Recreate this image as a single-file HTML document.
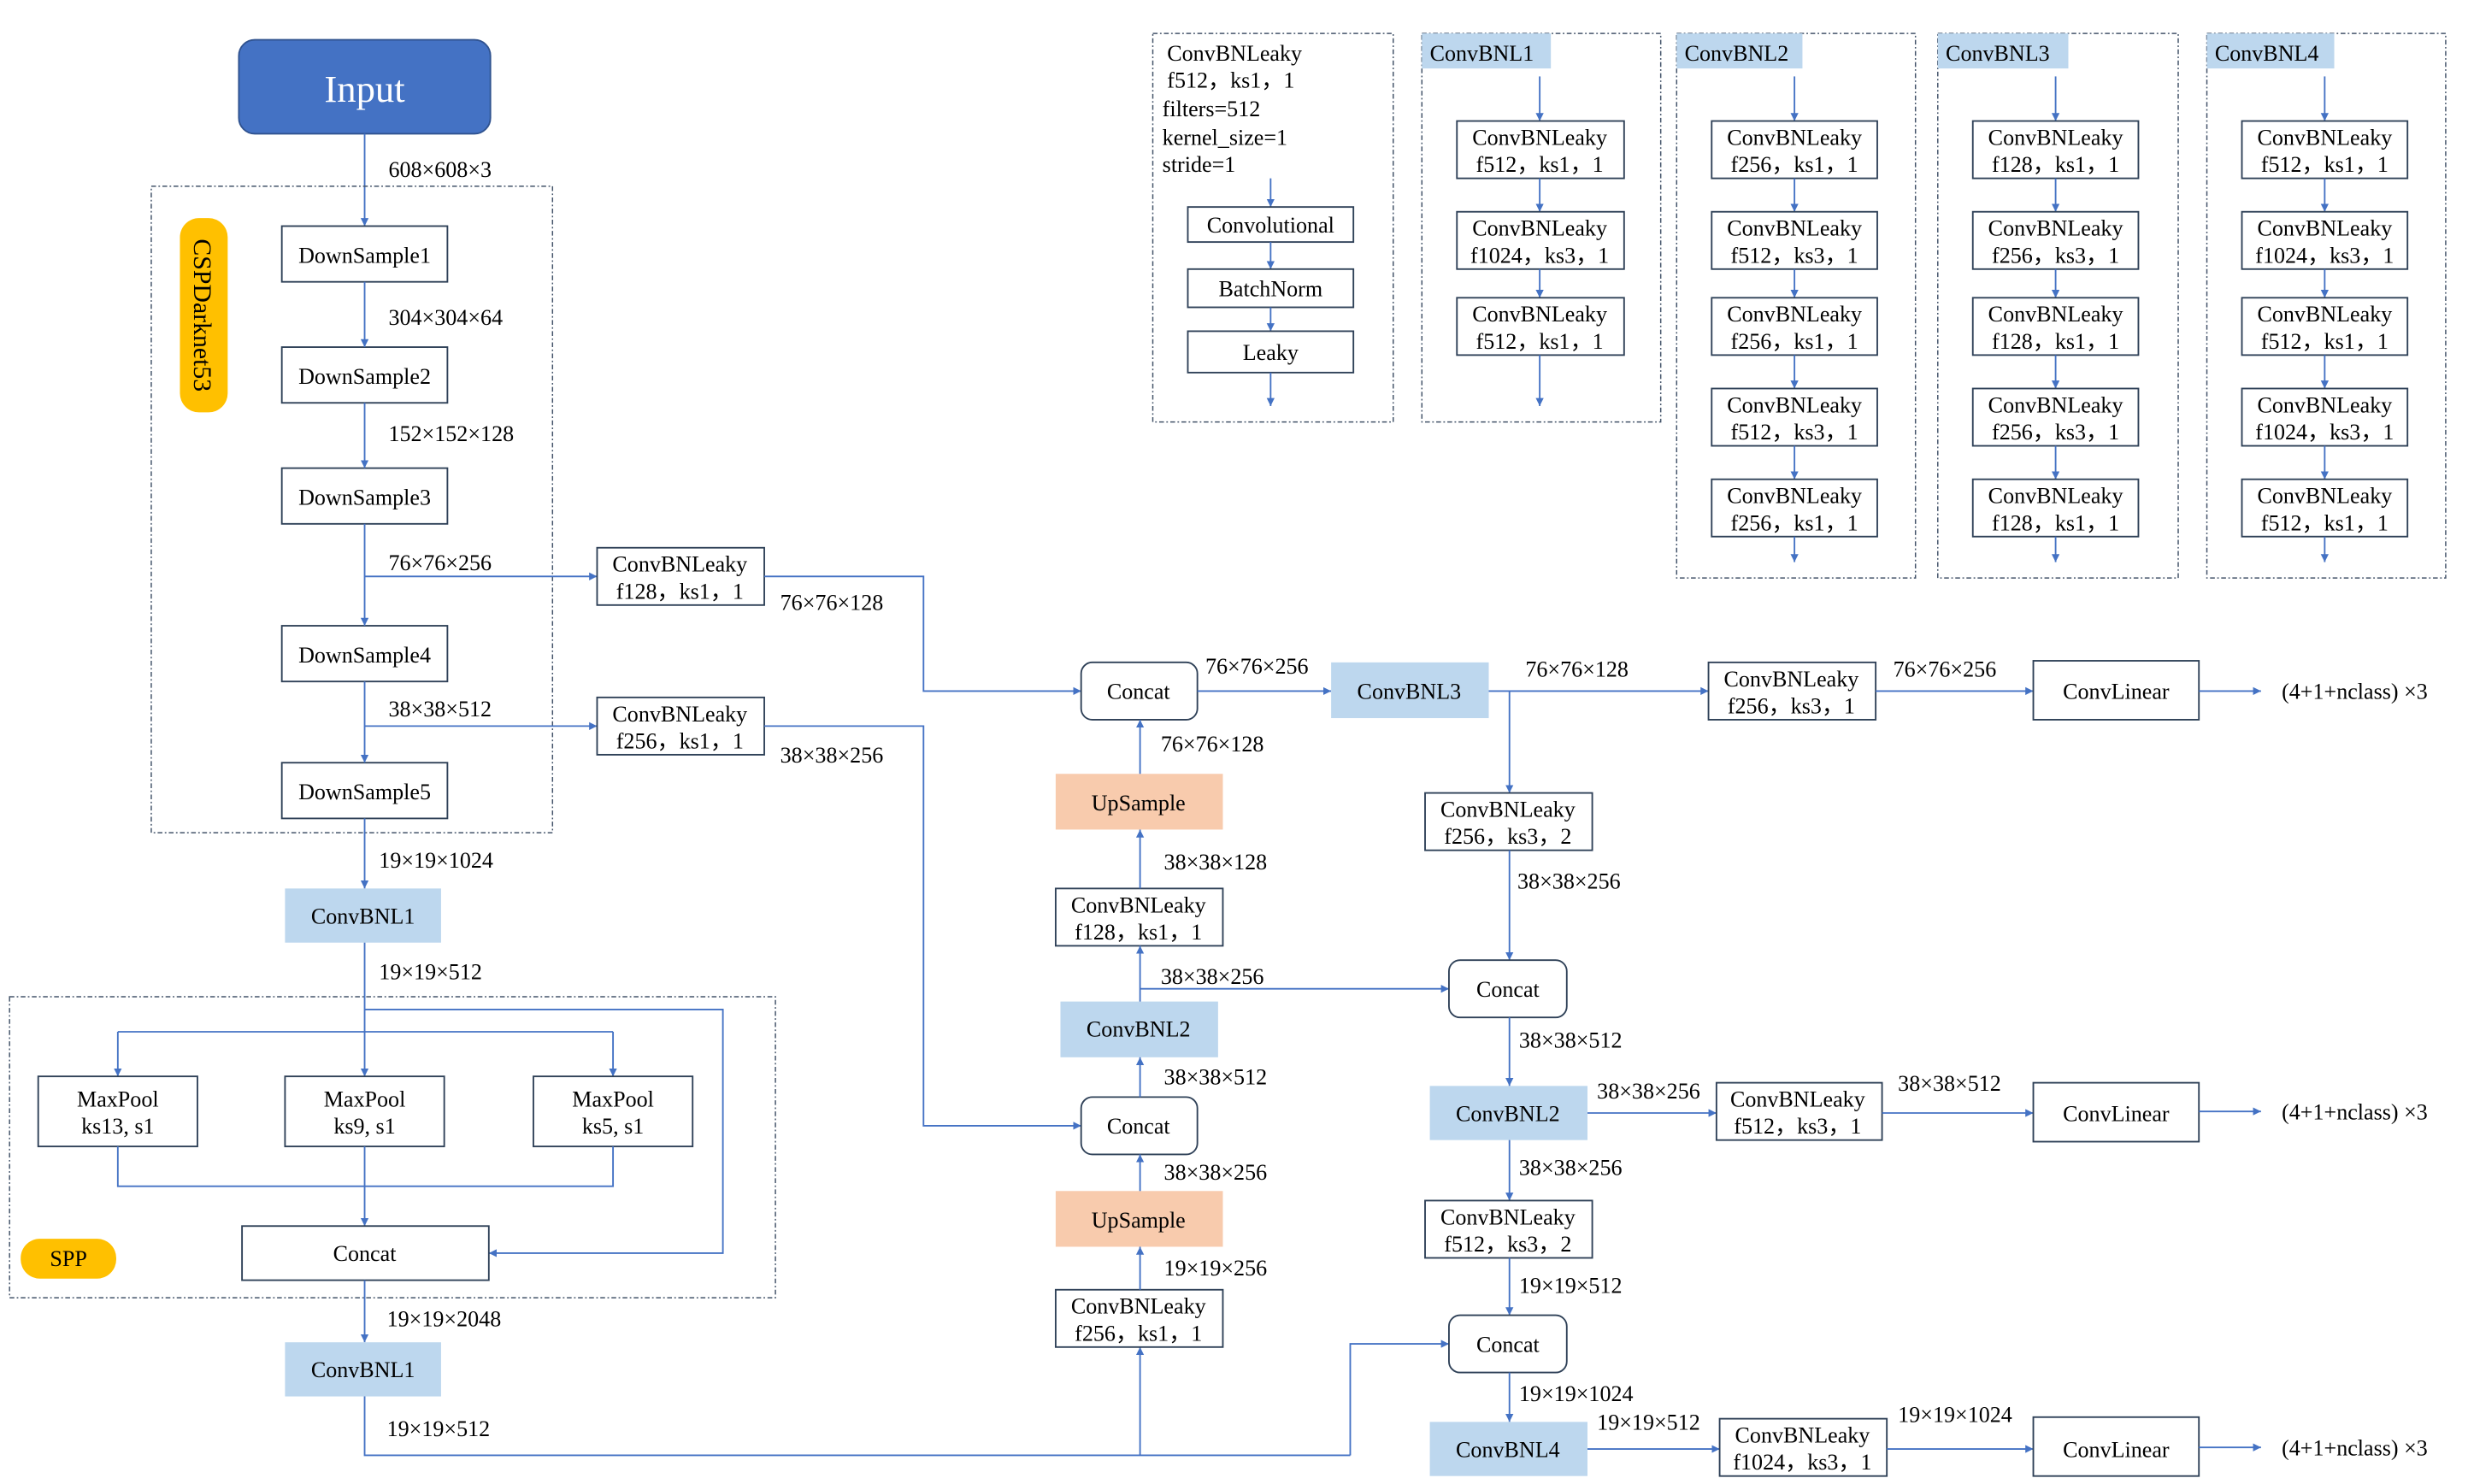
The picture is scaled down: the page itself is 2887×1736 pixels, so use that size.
<!DOCTYPE html>
<html><head><meta charset="utf-8"><style>
html,body{margin:0;padding:0;background:#fff;}
svg{display:block;}
text{font-family:"Liberation Serif",serif;font-size:14px;fill:#000;}
.b{fill:#fff;stroke:#2E4057;stroke-width:1;}
.bl{fill:#BDD7EE;stroke:none;}
.up{fill:#F8CBAD;stroke:none;}
.d{fill:none;stroke:#44546A;stroke-width:0.8;stroke-dasharray:3,1.5,1,1.5;}
.l{fill:none;stroke:#4472C4;stroke-width:1;}
.a{fill:none;stroke:#4472C4;stroke-width:1;marker-end:url(#ar);}
.c{text-anchor:middle;}
</style></head><body>
<svg width="2887" height="1736" viewBox="0 0 1550 932" preserveAspectRatio="none" xmlns="http://www.w3.org/2000/svg">
<defs><marker id="ar" viewBox="0 0 10 10" refX="10" refY="5" markerWidth="5" markerHeight="5" orient="auto"><path d="M0,0L10,5L0,10z" fill="#4472C4"/></marker></defs>

<!-- Input & backbone -->
<rect x="150" y="25" width="158" height="59" rx="10" fill="#4472C4" stroke="#2F528F"/>
<text x="229" y="64" class="c" style="font-size:24px;fill:#fff">Input</text>
<line class="a" x1="229" y1="84" x2="229" y2="142"/>
<text x="244" y="111">608×608×3</text>
<rect class="d" x="95" y="117" width="252" height="406"/>
<rect x="113" y="137" width="30" height="122" rx="12" fill="#FFC000"/>
<text transform="translate(122,198) rotate(90)" class="c" style="font-size:16px">CSPDarknet53</text>

<rect class="b" x="177" y="142" width="104" height="35"/><text x="229" y="165" class="c">DownSample1</text>
<rect class="b" x="177" y="218" width="104" height="35"/><text x="229" y="241" class="c">DownSample2</text>
<rect class="b" x="177" y="294" width="104" height="35"/><text x="229" y="317" class="c">DownSample3</text>
<rect class="b" x="177" y="393" width="104" height="35"/><text x="229" y="416" class="c">DownSample4</text>
<rect class="b" x="177" y="479" width="104" height="35"/><text x="229" y="502" class="c">DownSample5</text>
<line class="a" x1="229" y1="177" x2="229" y2="218"/><text x="244" y="204">304×304×64</text>
<line class="a" x1="229" y1="253" x2="229" y2="294"/><text x="244" y="277">152×152×128</text>
<line class="a" x1="229" y1="329" x2="229" y2="393"/><text x="244" y="358">76×76×256</text>
<line class="a" x1="229" y1="428" x2="229" y2="479"/><text x="244" y="450">38×38×512</text>
<line class="a" x1="229" y1="362" x2="375" y2="362"/>
<line class="a" x1="229" y1="456" x2="375" y2="456"/>
<rect class="b" x="375" y="344" width="105" height="36"/><text x="427" y="359" class="c">ConvBNLeaky</text><text x="427" y="376" class="c">f128，ks1，1</text>
<rect class="b" x="375" y="438" width="105" height="36"/><text x="427" y="453" class="c">ConvBNLeaky</text><text x="427" y="470" class="c">f256，ks1，1</text>
<polyline class="a" points="480,362 580,362 580,434 679,434"/><text x="490" y="383">76×76×128</text>
<polyline class="a" points="480,456 580,456 580,707 679,707"/><text x="490" y="479">38×38×256</text>

<line class="a" x1="229" y1="514" x2="229" y2="558"/><text x="238" y="545">19×19×1024</text>
<rect class="bl" x="179" y="558" width="98" height="34"/><text x="228" y="580" class="c">ConvBNL1</text>
<line class="l" x1="229" y1="592" x2="229" y2="648"/><text x="238" y="615">19×19×512</text>

<!-- SPP -->
<rect class="d" x="6" y="626" width="481" height="189"/>
<polyline class="a" points="229,634 454,634 454,787 307,787"/>
<line class="l" x1="74" y1="648" x2="385" y2="648"/>
<line class="a" x1="74" y1="648" x2="74" y2="676"/>
<line class="a" x1="229" y1="648" x2="229" y2="676"/>
<line class="a" x1="385" y1="648" x2="385" y2="676"/>
<rect class="b" x="24" y="676" width="100" height="44"/><text x="74" y="695" class="c">MaxPool</text><text x="74" y="712" class="c">ks13, s1</text>
<rect class="b" x="179" y="676" width="100" height="44"/><text x="229" y="695" class="c">MaxPool</text><text x="229" y="712" class="c">ks9, s1</text>
<rect class="b" x="335" y="676" width="100" height="44"/><text x="385" y="695" class="c">MaxPool</text><text x="385" y="712" class="c">ks5, s1</text>
<polyline class="l" points="74,720 74,745 385,745 385,720"/>
<line class="a" x1="229" y1="720" x2="229" y2="770"/>
<rect class="b" x="152" y="770" width="155" height="34"/><text x="229" y="792" class="c">Concat</text>
<rect x="13" y="778" width="60" height="25" rx="12" fill="#FFC000"/><text x="43" y="795" class="c">SPP</text>
<line class="a" x1="229" y1="804" x2="229" y2="843"/><text x="243" y="833">19×19×2048</text>
<rect class="bl" x="179" y="843" width="98" height="34"/><text x="228" y="865" class="c">ConvBNL1</text>
<polyline class="l" points="229,877 229,914 848,914"/><text x="243" y="902">19×19×512</text>
<line class="a" x1="716" y1="914" x2="716" y2="846"/>
<polyline class="a" points="848,914 848,844 910,844"/>

<!-- middle column -->
<rect class="b" x="679" y="416" width="73" height="36" rx="7"/><text x="715" y="439" class="c">Concat</text>
<rect class="b" x="679" y="689" width="73" height="36" rx="7"/><text x="715" y="712" class="c">Concat</text>
<rect class="b" x="663" y="810" width="105" height="36"/><text x="715" y="825" class="c">ConvBNLeaky</text><text x="715" y="842" class="c">f256，ks1，1</text>
<rect class="up" x="663" y="748" width="105" height="35"/><text x="715" y="771" class="c">UpSample</text>
<rect class="bl" x="666" y="629" width="99" height="35"/><text x="715" y="651" class="c">ConvBNL2</text>
<rect class="b" x="663" y="558" width="105" height="36"/><text x="715" y="573" class="c">ConvBNLeaky</text><text x="715" y="590" class="c">f128，ks1，1</text>
<rect class="up" x="663" y="486" width="105" height="35"/><text x="715" y="509" class="c">UpSample</text>
<line class="a" x1="716" y1="810" x2="716" y2="783"/><text x="731" y="801">19×19×256</text>
<line class="a" x1="716" y1="748" x2="716" y2="725"/><text x="731" y="741">38×38×256</text>
<line class="a" x1="716" y1="689" x2="716" y2="664"/><text x="731" y="681">38×38×512</text>
<line class="a" x1="716" y1="629" x2="716" y2="594"/><text x="729" y="618">38×38×256</text>
<line class="a" x1="716" y1="621" x2="910" y2="621"/>
<line class="a" x1="716" y1="558" x2="716" y2="521"/><text x="731" y="546">38×38×128</text>
<line class="a" x1="716" y1="486" x2="716" y2="452"/><text x="729" y="472">76×76×128</text>

<!-- right column -->
<line class="a" x1="752" y1="434" x2="836" y2="434"/><text x="757" y="423">76×76×256</text>
<rect class="bl" x="836" y="416" width="99" height="35"/><text x="885" y="439" class="c">ConvBNL3</text>
<line class="a" x1="935" y1="434" x2="1073" y2="434"/><text x="958" y="425">76×76×128</text>
<rect class="b" x="1073" y="416" width="105" height="36"/><text x="1125" y="431" class="c">ConvBNLeaky</text><text x="1125" y="448" class="c">f256，ks3，1</text>
<line class="a" x1="1178" y1="434" x2="1277" y2="434"/><text x="1189" y="425">76×76×256</text>
<rect class="b" x="1277" y="415" width="104" height="37"/><text x="1329" y="439" class="c">ConvLinear</text>
<line class="a" x1="1381" y1="434" x2="1420" y2="434"/><text x="1433" y="439">(4+1+nclass) ×3</text>

<line class="a" x1="948" y1="434" x2="948" y2="498"/>
<rect class="b" x="895" y="498" width="105" height="36"/><text x="947" y="513" class="c">ConvBNLeaky</text><text x="947" y="530" class="c">f256，ks3，2</text>
<line class="a" x1="948" y1="534" x2="948" y2="603"/><text x="953" y="558">38×38×256</text>
<rect class="b" x="910" y="603" width="74" height="36" rx="7"/><text x="947" y="626" class="c">Concat</text>
<line class="a" x1="948" y1="639" x2="948" y2="682"/><text x="954" y="658">38×38×512</text>
<rect class="bl" x="898" y="682" width="99" height="34"/><text x="947" y="704" class="c">ConvBNL2</text>
<line class="a" x1="997" y1="699" x2="1078" y2="699"/><text x="1003" y="690">38×38×256</text>
<rect class="b" x="1078" y="680" width="104" height="36"/><text x="1129" y="695" class="c">ConvBNLeaky</text><text x="1129" y="712" class="c">f512，ks3，1</text>
<line class="a" x1="1182" y1="699" x2="1277" y2="699"/><text x="1192" y="685">38×38×512</text>
<rect class="b" x="1277" y="680" width="104" height="37"/><text x="1329" y="704" class="c">ConvLinear</text>
<line class="a" x1="1381" y1="698" x2="1420" y2="698"/><text x="1433" y="703">(4+1+nclass) ×3</text>

<line class="a" x1="948" y1="716" x2="948" y2="754"/><text x="954" y="738">38×38×256</text>
<rect class="b" x="895" y="754" width="105" height="36"/><text x="947" y="769" class="c">ConvBNLeaky</text><text x="947" y="786" class="c">f512，ks3，2</text>
<line class="a" x1="948" y1="790" x2="948" y2="826"/><text x="954" y="812">19×19×512</text>
<rect class="b" x="910" y="826" width="74" height="36" rx="7"/><text x="947" y="849" class="c">Concat</text>
<line class="a" x1="948" y1="862" x2="948" y2="893"/><text x="954" y="880">19×19×1024</text>
<rect class="bl" x="898" y="893" width="99" height="34"/><text x="947" y="915" class="c">ConvBNL4</text>
<line class="a" x1="997" y1="910" x2="1080" y2="910"/><text x="1003" y="898">19×19×512</text>
<rect class="b" x="1080" y="891" width="105" height="36"/><text x="1132" y="906" class="c">ConvBNLeaky</text><text x="1132" y="923" class="c">f1024，ks3，1</text>
<line class="a" x1="1185" y1="910" x2="1277" y2="910"/><text x="1192" y="893">19×19×1024</text>
<rect class="b" x="1277" y="890" width="104" height="37"/><text x="1329" y="915" class="c">ConvLinear</text>
<line class="a" x1="1381" y1="909" x2="1420" y2="909"/><text x="1433" y="914">(4+1+nclass) ×3</text>

<!-- legend panels -->
<rect class="d" x="724" y="21" width="151" height="244"/>
<text x="733" y="38">ConvBNLeaky</text><text x="733" y="55">f512，ks1，1</text>
<text x="730" y="73">filters=512</text><text x="730" y="91">kernel_size=1</text><text x="730" y="108">stride=1</text>
<line class="a" x1="798" y1="112" x2="798" y2="130"/>
<rect class="b" x="746" y="130" width="104" height="22"/><text x="798" y="146" class="c">Convolutional</text>
<line class="a" x1="798" y1="152" x2="798" y2="169"/>
<rect class="b" x="746" y="169" width="104" height="24"/><text x="798" y="186" class="c">BatchNorm</text>
<line class="a" x1="798" y1="193" x2="798" y2="208"/>
<rect class="b" x="746" y="208" width="104" height="26"/><text x="798" y="226" class="c">Leaky</text>
<line class="a" x1="798" y1="234" x2="798" y2="255"/>

<rect class="d" x="893" y="21" width="150" height="244"/>
<rect class="bl" x="893" y="21" width="81" height="22"/><text x="898" y="38">ConvBNL1</text>
<line class="a" x1="967" y1="48" x2="967" y2="76"/>
<rect class="b" x="915" y="76" width="105" height="36"/><text x="967" y="91" class="c">ConvBNLeaky</text><text x="967" y="108" class="c">f512，ks1，1</text>
<line class="a" x1="967" y1="112" x2="967" y2="133"/>
<rect class="b" x="915" y="133" width="105" height="36"/><text x="967" y="148" class="c">ConvBNLeaky</text><text x="967" y="165" class="c">f1024，ks3，1</text>
<line class="a" x1="967" y1="169" x2="967" y2="187"/>
<rect class="b" x="915" y="187" width="105" height="36"/><text x="967" y="202" class="c">ConvBNLeaky</text><text x="967" y="219" class="c">f512，ks1，1</text>
<line class="a" x1="967" y1="223" x2="967" y2="255"/>

<rect class="d" x="1053" y="21" width="150" height="342"/>
<rect class="bl" x="1053" y="21" width="79" height="22"/><text x="1058" y="38">ConvBNL2</text>
<line class="a" x1="1127" y1="48" x2="1127" y2="76"/>
<rect class="b" x="1075" y="76" width="104" height="36"/><text x="1127" y="91" class="c">ConvBNLeaky</text><text x="1127" y="108" class="c">f256，ks1，1</text>
<line class="a" x1="1127" y1="112" x2="1127" y2="133"/>
<rect class="b" x="1075" y="133" width="104" height="36"/><text x="1127" y="148" class="c">ConvBNLeaky</text><text x="1127" y="165" class="c">f512，ks3，1</text>
<line class="a" x1="1127" y1="169" x2="1127" y2="187"/>
<rect class="b" x="1075" y="187" width="104" height="36"/><text x="1127" y="202" class="c">ConvBNLeaky</text><text x="1127" y="219" class="c">f256，ks1，1</text>
<line class="a" x1="1127" y1="223" x2="1127" y2="244"/>
<rect class="b" x="1075" y="244" width="104" height="36"/><text x="1127" y="259" class="c">ConvBNLeaky</text><text x="1127" y="276" class="c">f512，ks3，1</text>
<line class="a" x1="1127" y1="280" x2="1127" y2="301"/>
<rect class="b" x="1075" y="301" width="104" height="36"/><text x="1127" y="316" class="c">ConvBNLeaky</text><text x="1127" y="333" class="c">f256，ks1，1</text>
<line class="a" x1="1127" y1="337" x2="1127" y2="353"/>

<rect class="d" x="1217" y="21" width="151" height="342"/>
<rect class="bl" x="1217" y="21" width="82" height="22"/><text x="1222" y="38">ConvBNL3</text>
<line class="a" x1="1291" y1="48" x2="1291" y2="76"/>
<rect class="b" x="1239" y="76" width="104" height="36"/><text x="1291" y="91" class="c">ConvBNLeaky</text><text x="1291" y="108" class="c">f128，ks1，1</text>
<line class="a" x1="1291" y1="112" x2="1291" y2="133"/>
<rect class="b" x="1239" y="133" width="104" height="36"/><text x="1291" y="148" class="c">ConvBNLeaky</text><text x="1291" y="165" class="c">f256，ks3，1</text>
<line class="a" x1="1291" y1="169" x2="1291" y2="187"/>
<rect class="b" x="1239" y="187" width="104" height="36"/><text x="1291" y="202" class="c">ConvBNLeaky</text><text x="1291" y="219" class="c">f128，ks1，1</text>
<line class="a" x1="1291" y1="223" x2="1291" y2="244"/>
<rect class="b" x="1239" y="244" width="104" height="36"/><text x="1291" y="259" class="c">ConvBNLeaky</text><text x="1291" y="276" class="c">f256，ks3，1</text>
<line class="a" x1="1291" y1="280" x2="1291" y2="301"/>
<rect class="b" x="1239" y="301" width="104" height="36"/><text x="1291" y="316" class="c">ConvBNLeaky</text><text x="1291" y="333" class="c">f128，ks1，1</text>
<line class="a" x1="1291" y1="337" x2="1291" y2="353"/>

<rect class="d" x="1386" y="21" width="150" height="342"/>
<rect class="bl" x="1386" y="21" width="80" height="22"/><text x="1391" y="38">ConvBNL4</text>
<line class="a" x1="1460" y1="48" x2="1460" y2="76"/>
<rect class="b" x="1408" y="76" width="104" height="36"/><text x="1460" y="91" class="c">ConvBNLeaky</text><text x="1460" y="108" class="c">f512，ks1，1</text>
<line class="a" x1="1460" y1="112" x2="1460" y2="133"/>
<rect class="b" x="1408" y="133" width="104" height="36"/><text x="1460" y="148" class="c">ConvBNLeaky</text><text x="1460" y="165" class="c">f1024，ks3，1</text>
<line class="a" x1="1460" y1="169" x2="1460" y2="187"/>
<rect class="b" x="1408" y="187" width="104" height="36"/><text x="1460" y="202" class="c">ConvBNLeaky</text><text x="1460" y="219" class="c">f512，ks1，1</text>
<line class="a" x1="1460" y1="223" x2="1460" y2="244"/>
<rect class="b" x="1408" y="244" width="104" height="36"/><text x="1460" y="259" class="c">ConvBNLeaky</text><text x="1460" y="276" class="c">f1024，ks3，1</text>
<line class="a" x1="1460" y1="280" x2="1460" y2="301"/>
<rect class="b" x="1408" y="301" width="104" height="36"/><text x="1460" y="316" class="c">ConvBNLeaky</text><text x="1460" y="333" class="c">f512，ks1，1</text>
<line class="a" x1="1460" y1="337" x2="1460" y2="353"/>
</svg>
</body></html>
